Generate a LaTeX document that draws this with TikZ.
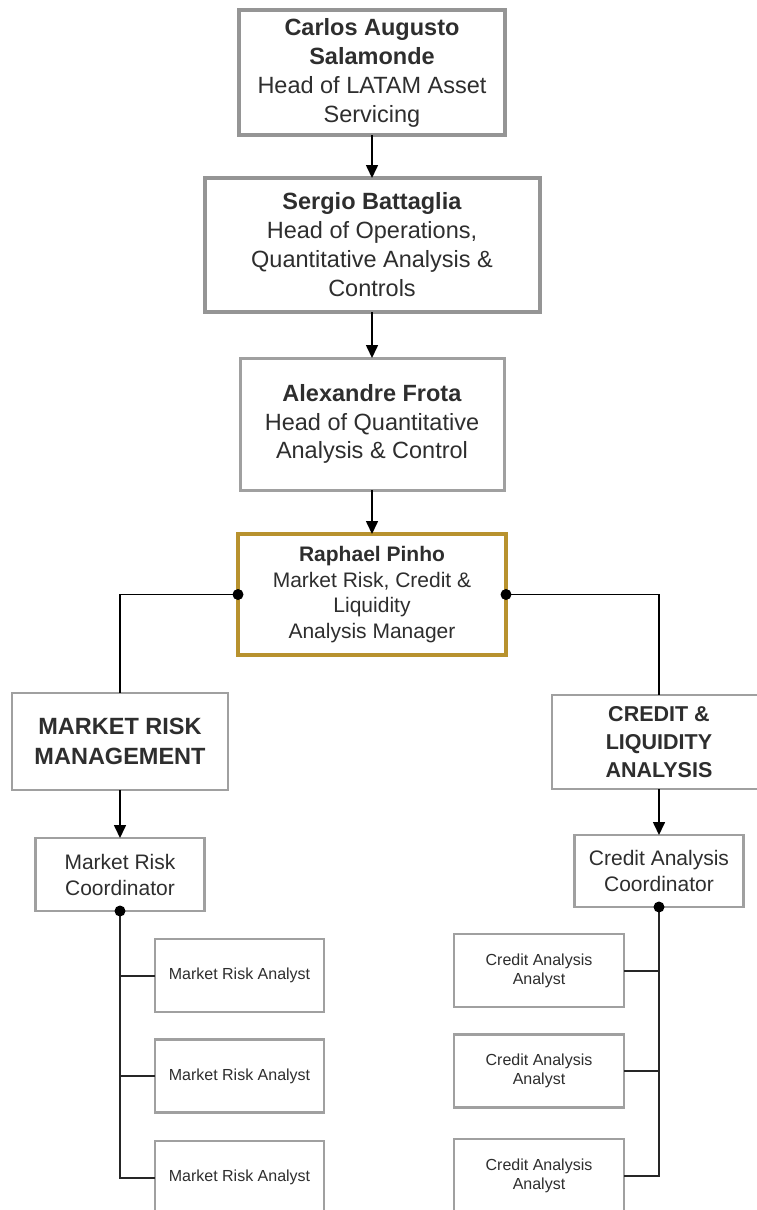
\documentclass[tikz,border=0pt]{standalone}
\usepackage{fontspec}
\setmainfont{Liberation Sans}
\usetikzlibrary{arrows.meta}
\definecolor{boxgray}{HTML}{A0A0A0}
\definecolor{darkgray}{HTML}{959595}
\definecolor{gold}{HTML}{B8922E}
\definecolor{txt}{HTML}{2E2E2E}
\tikzset{
  base/.style={draw=boxgray, line width=2.5pt, fill=white, inner sep=0pt, outer sep=0pt, align=center, text=txt},
  topbox/.style={base, draw=darkgray, line width=4pt, font=\fontsize{23.5}{29}\selectfont},
  midbox/.style={base, line width=3pt, font=\fontsize{23.5}{28.5}\selectfont},
  mgrbox/.style={base, draw=gold, line width=4pt, font=\fontsize{21}{25.5}\selectfont},
  deptbox/.style={base, font=\bfseries\fontsize{23.5}{30}\selectfont},
  dept2box/.style={base, font=\bfseries\fontsize{21.5}{28}\selectfont},
  coordbox/.style={base, font=\fontsize{21}{26}\selectfont},
  analystbox/.style={base, minimum width=169pt, minimum height=73pt, font=\fontsize{16}{19}\selectfont},
  conn/.style={line width=1.6pt, draw=black},
  arr/.style={conn, -{Triangle[width=12pt,length=13pt]}},
  trunk/.style={line width=2pt, draw=black!85},
}
\begin{document}
\begin{tikzpicture}[x=1pt,y=-1pt]
\useasboundingbox (0,0) rectangle (757,1210);
\clip (0,0) rectangle (757,1210);
\fill[white] (0,0) rectangle (757,1210);

\node[topbox, minimum width=266pt, minimum height=125pt] (b1) at (372,72.5)
  {\textbf{Carlos Augusto}\\\textbf{Salamonde}\\Head of LATAM Asset\\Servicing};
\node[topbox, minimum width=335pt, minimum height=134pt] (b2) at (372,245)
  {\textbf{Sergio Battaglia}\\Head of Operations,\\Quantitative Analysis \&\\Controls};
\node[midbox, minimum width=264pt, minimum height=132pt] (b3) at (372,424)
  {\textbf{Alexandre Frota}\\Head of Quantitative\\Analysis \& Control};
\node[mgrbox, minimum width=268pt, minimum height=121pt] (b4) at (372,594.5)
  {\textbf{Raphael Pinho}\\Market Risk, Credit \&\\Liquidity\\Analysis Manager};

\node[deptbox, minimum width=216pt, minimum height=97pt] (mrm) at (120,741.5)
  {MARKET RISK\\MANAGEMENT};
\node[dept2box, minimum width=214pt, minimum height=94pt] (cla) at (659,742)
  {CREDIT \&\\LIQUIDITY\\ANALYSIS};

\node[coordbox, minimum width=169pt, minimum height=73pt] (mrc) at (120,874.5)
  {Market Risk\\Coordinator};
\node[coordbox, minimum width=169pt, minimum height=72pt] (cac) at (659,871)
  {Credit Analysis\\Coordinator};

\node[analystbox] (mra1) at (239.5,975.5) {Market Risk Analyst};
\node[analystbox] (mra2) at (239.5,1076) {Market Risk Analyst};
\node[analystbox] (mra3) at (239.5,1177.5) {Market Risk Analyst};

\node[analystbox, minimum width=170pt] (caa1) at (539,970.5) {Credit Analysis\\Analyst};
\node[analystbox, minimum width=170pt] (caa2) at (539,1071) {Credit Analysis\\Analyst};
\node[analystbox, minimum width=170pt] (caa3) at (539,1175.5) {Credit Analysis\\Analyst};

% chain of command
\draw[arr] (b1.south) -- (b2.north);
\draw[arr] (b2.south) -- (b3.north);
\draw[arr] (b3.south) -- (b4.north);

% manager to departments
\draw[conn] (b4.west) -| (mrm.north);
\draw[conn] (b4.east) -| (cla.north);
\fill (b4.west) circle (5.5pt);
\fill (b4.east) circle (5.5pt);

% departments to coordinators
\draw[arr] (mrm.south) -- (mrc.north);
\draw[arr] (cla.south) -- (cac.north);

% coordinators to analysts
\draw[trunk] (mrc.south) |- (mra3.west);
\draw[trunk] (mrc.south |- mra1.west) -- (mra1.west);
\draw[trunk] (mrc.south |- mra2.west) -- (mra2.west);
\fill (mrc.south) circle (5.5pt);

\draw[trunk] (cac.south) |- (caa3.east);
\draw[trunk] (cac.south |- caa1.east) -- (caa1.east);
\draw[trunk] (cac.south |- caa2.east) -- (caa2.east);
\fill (cac.south) circle (5.5pt);
\end{tikzpicture}
\end{document}
